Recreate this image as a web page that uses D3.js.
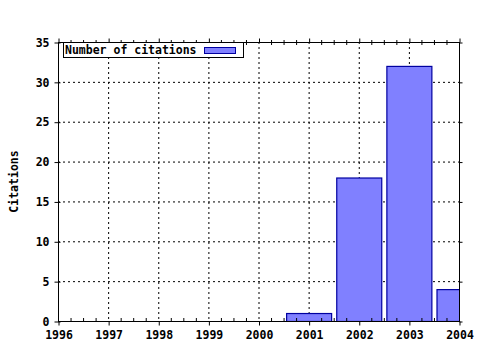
<!DOCTYPE html>
<html><head><meta charset="utf-8">
<script src="https://cdn.jsdelivr.net/npm/d3@7"></script>
<style>body{margin:0;background:#fff}svg{display:block}text{font-family:"DejaVu Sans Mono",monospace;font-weight:bold;font-size:11.5px;fill:#000}</style>
</head><body><svg id="c" width="480" height="350"></svg>
<script>
const years = [2001, 2002, 2003, 2004];
const citations = [1, 18, 32, 4];
const xTicks = [1996, 1997, 1998, 1999, 2000, 2001, 2002, 2003, 2004];
const yTicks = [0, 5, 10, 15, 20, 25, 30, 35];
const seriesName = "Number of citations";
const yLabel = "Citations";

const svg = d3.select("#c");
const L = 58, R = 459, T = 42, B = 321;
const x = d3.scaleLinear().domain([1996, 2004]).range([L, R]);
const y = d3.scaleLinear().domain([0, 35]).range([B, T]);

svg.append("defs").append("clipPath").attr("id", "clip")
  .append("rect").attr("x", L).attr("y", T).attr("width", R - L).attr("height", B - T);

// grid
const g = svg.append("g").attr("stroke", "#000").attr("stroke-dasharray", "2,3").attr("stroke-width", 1);
xTicks.slice(1, -1).forEach(v => g.append("line").attr("x1", x(v)+0.5).attr("x2", x(v)+0.5).attr("y1", T).attr("y2", B));
yTicks.slice(1, -1).forEach(v => g.append("line").attr("x1", L).attr("x2", R).attr("y1", y(v)+0.5).attr("y2", y(v)+0.5));

// bars
const barW = 45;
svg.append("g").attr("clip-path", "url(#clip)").selectAll("rect").data(years).join("rect")
  .attr("x", (d) => x(d) - barW/2 + 0.5)
  .attr("y", (d, i) => y(citations[i]) + 0.5)
  .attr("width", barW)
  .attr("height", (d, i) => y(0) - y(citations[i]))
  .attr("fill", "#8080ff").attr("stroke", "#0000a0").attr("stroke-width", 1.2);

// frame
svg.append("rect").attr("x", L+0.5).attr("y", T+0.5).attr("width", R-L).attr("height", B-T)
  .attr("fill", "none").attr("stroke", "#000").attr("stroke-width", 1);

// axes
const xAxisB = d3.axisBottom(x).tickValues(xTicks).tickFormat(d3.format("d")).tickSize(4).tickPadding(5);
const gb = svg.append("g").attr("transform", `translate(0.5,${B+0.5})`).call(xAxisB);
const xAxisT = d3.axisTop(x).tickValues(xTicks).tickFormat("").tickSize(4);
const gt = svg.append("g").attr("transform", `translate(0.5,${T+0.5})`).call(xAxisT);
const yAxisL = d3.axisLeft(y).tickValues(yTicks).tickSize(4).tickPadding(5);
const gl = svg.append("g").attr("transform", `translate(${L+0.5},0.5)`).call(yAxisL);
const yAxisR = d3.axisRight(y).tickValues(yTicks).tickFormat("").tickSize(3);
const gr = svg.append("g").attr("transform", `translate(${R+0.5},0.5)`).call(yAxisR);
[gb, gt, gl, gr].forEach(a => { a.select(".domain").remove(); a.selectAll("text").attr("font-family", null).attr("font-size", null); });
gl.selectAll(".tick line").attr("x2", 2).attr("x1", -4);

// minor x ticks
const minor = [];
xTicks.slice(0, -1).forEach(v => { for (let k = 1; k < 4; k++) minor.push(v + k/4); });
const mg = svg.append("g").attr("stroke", "#000");
minor.forEach(v => {
  mg.append("line").attr("x1", x(v)+0.5).attr("x2", x(v)+0.5).attr("y1", B).attr("y2", B-3);
  mg.append("line").attr("x1", x(v)+0.5).attr("x2", x(v)+0.5).attr("y1", T-2).attr("y2", T+3);
});

// y label
svg.append("text").attr("transform", `translate(18,${(T+B)/2}) rotate(-90)`).attr("text-anchor", "middle").text(yLabel);

// legend
const lg = svg.append("g");
lg.append("rect").attr("x", 63.5).attr("y", 42.5).attr("width", 180).attr("height", 15).attr("fill", "#fff").attr("stroke", "#000");
lg.append("text").attr("x", 65).attr("y", 54).text(seriesName);
lg.append("rect").attr("x", 204.5).attr("y", 47.5).attr("width", 31).attr("height", 6).attr("fill", "#8080ff").attr("stroke", "#0000a0");
</script></body></html>
